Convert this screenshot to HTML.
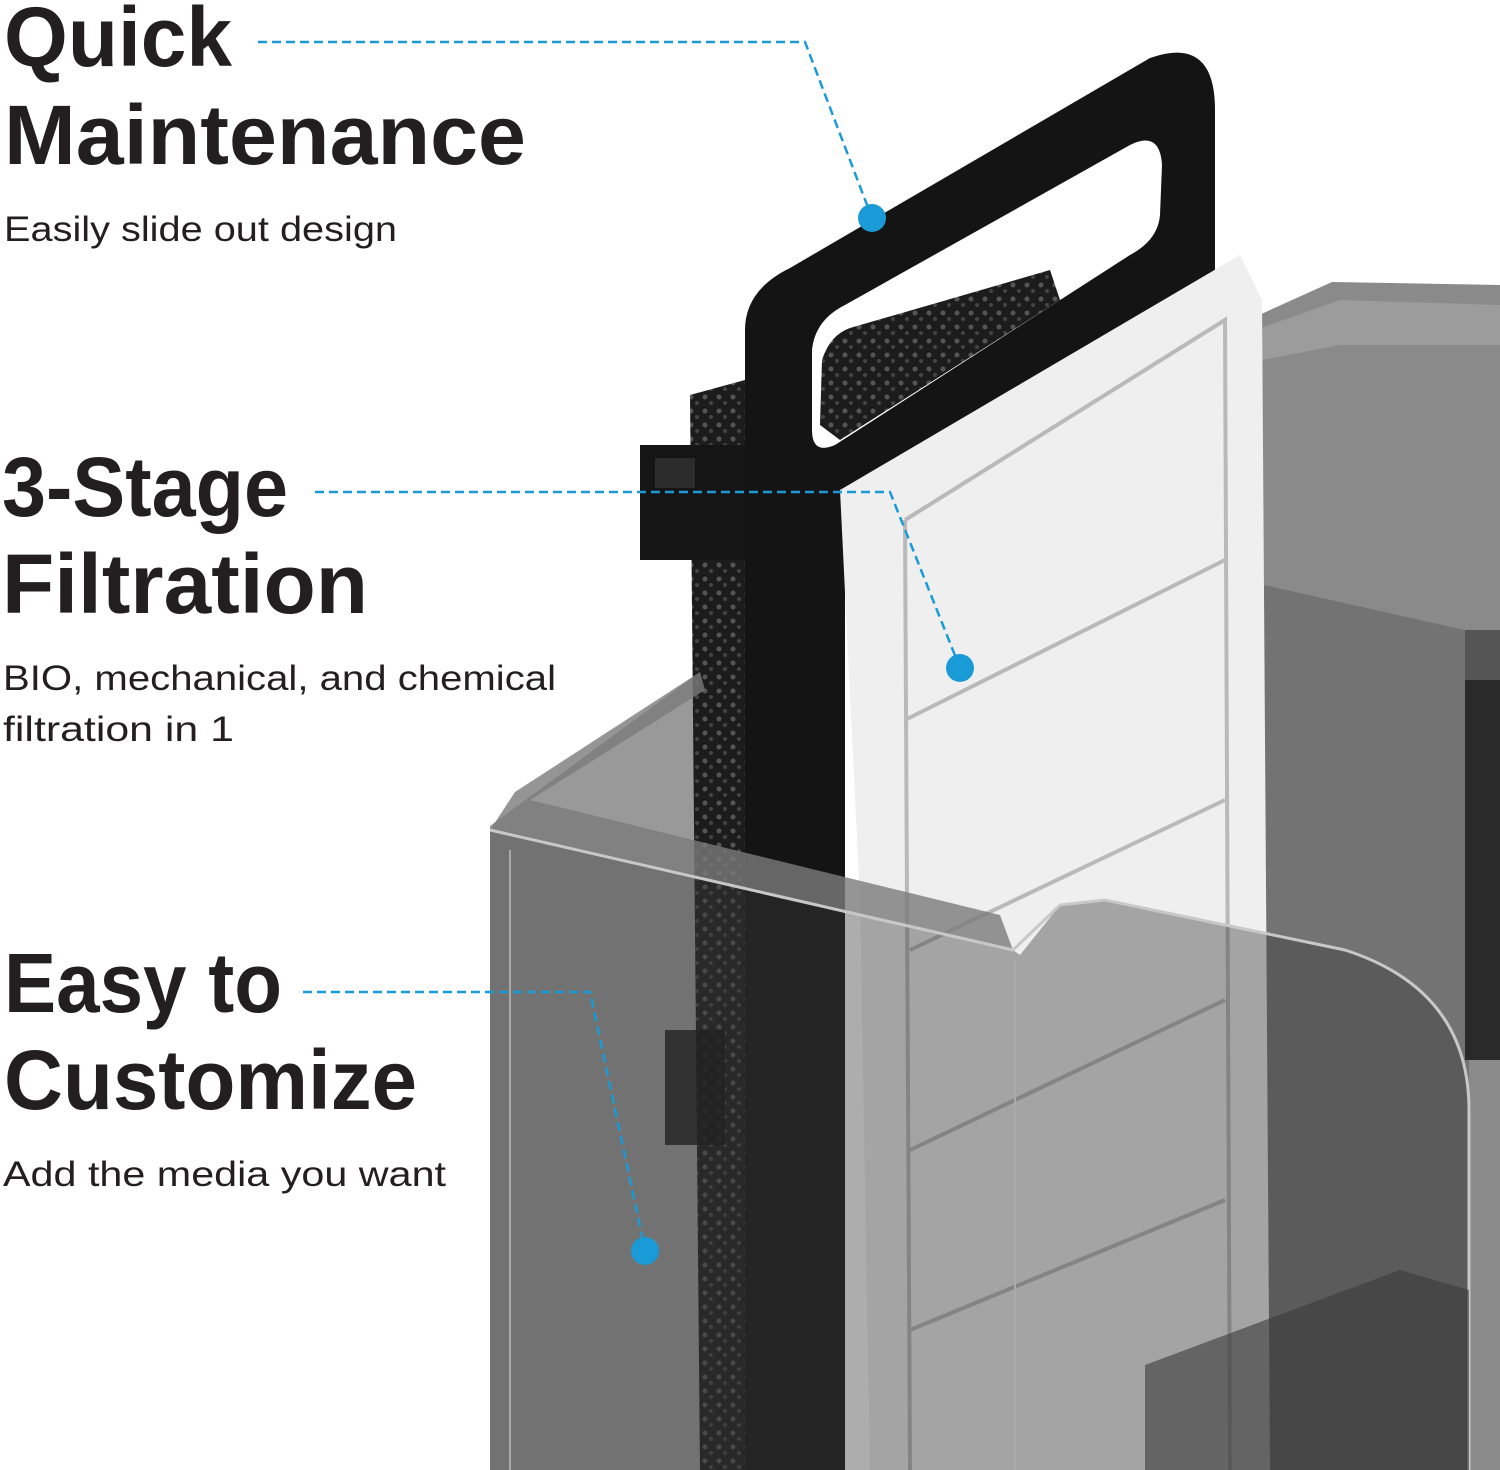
<!DOCTYPE html>
<html><head><meta charset="utf-8"><style>
html,body{margin:0;padding:0;background:#fff;width:1500px;height:1470px;overflow:hidden}
svg{display:block}
.t{font-family:"Liberation Sans",sans-serif;font-weight:bold;fill:#231f20;font-size:84px}
.s{font-family:"Liberation Sans",sans-serif;fill:#231f20;font-size:35px}
</style></head><body>
<svg width="1500" height="1470" viewBox="0 0 1500 1470" xmlns="http://www.w3.org/2000/svg">
<defs>
<pattern id="sp" width="14" height="14" patternUnits="userSpaceOnUse">
<rect width="14" height="14" fill="#1c1c1c"/>
<circle cx="5" cy="5" r="2.5" fill="#555"/><circle cx="11" cy="11" r="2" fill="#444"/>
</pattern>
</defs>
<path d="M1248,320 L1332,282 L1500,285 L1500,1470 L1248,1470 Z" fill="#8a8a8a"/>
<path d="M1255,330 L1340,300 L1500,305 L1500,345 L1340,345 L1262,360 Z" fill="#9c9c9c"/>
<path d="M1264,585 L1469,631 L1469,1470 L1264,1470 Z" fill="#737373"/>
<rect x="1465" y="630" width="35" height="60" fill="#555"/>
<rect x="1465" y="680" width="35" height="380" fill="#2a2a2a"/>
<path d="M490,826 L700,672 L760,672 L760,1470 L490,1470 Z" fill="#999"/>
<path d="M690,395 L745,380 L745,1470 L700,1470 Z" fill="url(#sp)"/>
<path d="M815,340 L1060,262 L1070,300 L1210,270 L1210,420 L840,500 Z" fill="url(#sp)"/>
<rect x="640" y="445" width="110" height="115" fill="#151515"/>
<rect x="655" y="458" width="40" height="30" fill="#2c2c2c"/>
<path d="M745,1470 L745,330 Q745,290 790,268 L1150,58 Q1215,35 1215,110 L1215,300 L845,520 L845,1470 Z" fill="#141414"/>
<path d="M812,430 L812,350 Q815,320 845,305 L1130,145 Q1160,130 1162,165 L1160,215 Q1158,240 1130,255 L835,445 Q812,455 812,430 Z" fill="#fff"/>
<path d="M820,425 L822,360 Q830,335 850,328 L1050,270 L1060,300 L840,440 Z" fill="url(#sp)"/>
<path d="M840,490 L1240,255 L1262,300 L1270,1470 L870,1470 L860,900 Z" fill="#efefef"/>
<path d="M905,520 L1225,320 L1230,1470 M905,520 L910,1470 M905,720 L1225,560 M910,950 L1225,800 M910,1150 L1225,1000 M910,1330 L1225,1200" stroke="#6a6a6a" stroke-width="4" fill="none" opacity="0.4"/>
<path d="M490,830 L1013,950 L1020,955 L1060,905 L1105,900 L1345,950 Q1469,990 1469,1110 L1469,1470 L490,1470 Z" fill="#3c3c3c" opacity="0.42"/>
<path d="M490,830 L515,792 L700,672 L705,690 L530,800 L1000,915 L1013,950 Z" fill="#7a7a7a" opacity="0.8"/>
<path d="M490,830 L1013,950 L1060,905 L1105,900 L1345,950 Q1469,990 1469,1110 L1469,1470" stroke="#c8c8c8" stroke-width="3" fill="none"/>
<path d="M1015,960 L1015,1470 M510,850 L510,1470" stroke="#aaa" stroke-width="2" fill="none"/>
<rect x="665" y="1030" width="60" height="115" fill="#222" opacity="0.8"/>
<path d="M1145,1365 L1400,1270 L1469,1290 L1469,1470 L1145,1470 Z" fill="#3a3a3a" opacity="0.6"/>
<g stroke="#1a9bd7" stroke-width="2.5" stroke-dasharray="9,5" fill="none">
<path d="M258,42 L805,42 L872,218"/>
<path d="M315,492 L890,492 L960,668"/>
<path d="M303,992 L590,992 L645,1250"/>
</g>
<g fill="#1a9bd7"><circle cx="872" cy="218" r="14"/><circle cx="960" cy="668" r="14"/><circle cx="645" cy="1251" r="14"/></g>
<text class="t" x="4" y="66" textLength="228" lengthAdjust="spacingAndGlyphs">Quick</text>
<text class="t" x="4" y="164" textLength="522" lengthAdjust="spacingAndGlyphs">Maintenance</text>
<text class="s" x="4" y="241" textLength="393" lengthAdjust="spacingAndGlyphs">Easily slide out design</text>
<text class="t" x="2" y="516" textLength="286" lengthAdjust="spacingAndGlyphs">3-Stage</text>
<text class="t" x="2" y="613" textLength="366" lengthAdjust="spacingAndGlyphs">Filtration</text>
<text class="s" x="3" y="690" textLength="553" lengthAdjust="spacingAndGlyphs">BIO, mechanical, and chemical</text>
<text class="s" x="3" y="741" textLength="231" lengthAdjust="spacingAndGlyphs">filtration in 1</text>
<text class="t" x="4" y="1012" textLength="278" lengthAdjust="spacingAndGlyphs">Easy to</text>
<text class="t" x="4" y="1109" textLength="413" lengthAdjust="spacingAndGlyphs">Customize</text>
<text class="s" x="3" y="1186" textLength="443" lengthAdjust="spacingAndGlyphs">Add the media you want</text>
</svg>
</body></html>
